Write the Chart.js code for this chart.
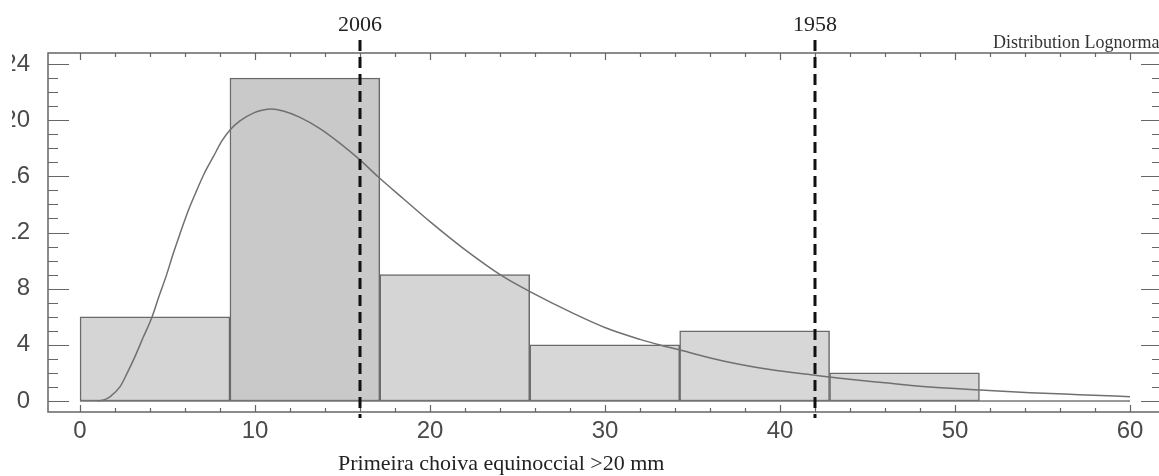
<!DOCTYPE html>
<html>
<head>
<meta charset="utf-8">
<script src="https://cdn.jsdelivr.net/npm/chart.js@4.4.1/dist/chart.umd.min.js"></script>
<style>
  html, body { margin: 0; padding: 0; background: #fff; overflow: hidden; width: 1159px; height: 476px; }
  #wrap { position: absolute; left: 12px; top: 0; }
</style>
</head>
<body>
<div id="wrap"><canvas id="histChart" width="1160" height="476"></canvas></div>
<script>
// histogram: bin edges (mm) and counts
var binEdges = [0, 8.57, 17.13, 25.7, 34.27, 42.83, 51.4];
var binCounts = [6, 23, 9, 4, 5, 2];

// lognormal curve
var curveX = [1.0, 1.4, 1.71, 2.29, 2.7, 3.14, 3.6, 4.1, 4.5, 4.95, 5.3, 5.71, 6.2, 6.67, 7.1, 7.62, 8.1, 8.57,
              9.14, 9.9, 10.4, 10.95, 11.62, 12.57, 13.71, 14.86, 16.0, 17.05, 18.48, 20.0, 21.9, 24.19, 25.71,
              28.19, 30.1, 32.0, 33.14, 34.29, 36.76, 39.62, 41.9, 43.43, 45.7, 48.57, 51.43, 54.29, 57.1, 60.0];
var curveY = [0.0, 0.1, 0.3, 1.02, 2.0, 3.16, 4.5, 5.93, 7.4, 9.0, 10.4, 11.9, 13.6, 15.0, 16.2, 17.4, 18.5, 19.3,
              19.95, 20.5, 20.7, 20.8, 20.65, 20.2, 19.4, 18.35, 17.17, 15.95, 14.4, 12.77, 10.87, 8.85, 7.79,
              6.24, 5.18, 4.39, 3.99, 3.63, 2.85, 2.2, 1.85, 1.62, 1.33, 0.99, 0.78, 0.59, 0.45, 0.31];

// years marked with dashed lines
var markerYears = ['2006', '1958'];
var markerValues = [16, 42];

var xTicks = [0, 10, 20, 30, 40, 50, 60];
var yTicks = [0, 4, 8, 12, 16, 20, 24];

var barData = binCounts.map(function (c, i) {
    return { x: (binEdges[i] + binEdges[i + 1]) / 2, y: c };
});
var curveData = curveX.map(function (x, i) {
    return { x: x, y: curveY[i] };
});
var baseData = [{ x: xTicks[0], y: 0 }, { x: xTicks[xTicks.length - 1], y: 0 }];

var framePlugin = {
    id: 'frame',
    afterDatasetsDraw: function (chart) {
        var ctx = chart.ctx, a = chart.chartArea;
        var xs = chart.scales.x, ys = chart.scales.y;
        ctx.save();

        // frame
        ctx.strokeStyle = '#666';
        ctx.lineWidth = 1.5;
        ctx.strokeRect(a.left, a.top, a.right - a.left, a.bottom - a.top);

        // inward ticks, left and right
        ctx.beginPath();
        for (var v = yTicks[0]; v <= yTicks[yTicks.length - 1]; v++) {
            var py = Math.round(ys.getPixelForValue(v)) + 0.5;
            var len = v % 4 === 0 ? 21 : 10;
            ctx.moveTo(a.left, py); ctx.lineTo(a.left + len, py);
            ctx.moveTo(a.right, py); ctx.lineTo(a.right - len, py);
        }
        // inward ticks, top and bottom
        for (var u = xTicks[0]; u <= xTicks[xTicks.length - 1]; u += 2) {
            var px = Math.round(xs.getPixelForValue(u)) + 0.5;
            var l2 = u % 10 === 0 ? 7 : 4;
            ctx.moveTo(px, a.bottom); ctx.lineTo(px, a.bottom - l2);
            ctx.moveTo(px, a.top); ctx.lineTo(px, a.top + l2);
        }
        ctx.lineWidth = 1.2;
        ctx.stroke();

        // dashed year markers
        ctx.strokeStyle = '#111';
        ctx.lineWidth = 3;
        ctx.setLineDash([11, 6]);
        ctx.fillStyle = '#222';
        ctx.font = '22px "Liberation Serif", "Times New Roman", serif';
        ctx.textAlign = 'center';
        ctx.textBaseline = 'alphabetic';
        markerValues.forEach(function (val, i) {
            var mx = xs.getPixelForValue(val);
            ctx.beginPath();
            ctx.moveTo(mx, a.top - 13);
            ctx.lineTo(mx, a.bottom + 6);
            ctx.stroke();
            ctx.fillText(markerYears[i], mx, 31);
        });
        ctx.setLineDash([]);

        // curve name, top right (runs off the edge like the original)
        ctx.fillStyle = '#333';
        ctx.font = '18px "Liberation Serif", "Times New Roman", serif';
        ctx.textAlign = 'left';
        ctx.fillText('Distribution Lognormal', a.right - 169, 48);

        // axis title
        ctx.fillStyle = '#222';
        ctx.font = '22px "Liberation Serif", "Times New Roman", serif';
        ctx.fillText('Primeira choiva equinoccial >20 mm', a.left + 290, 470);

        ctx.restore();
    }
};

var ctx = document.getElementById('histChart').getContext('2d');
new Chart(ctx, {
    type: 'bar',
    data: {
        datasets: [{
            type: 'bar',
            data: barData,
            backgroundColor: ['#d5d5d5', '#c9c9c9', '#d5d5d5', '#d7d7d7', '#d7d7d7', '#d7d7d7'],
            borderColor: '#6a6a6a',
            borderWidth: 1.5,
            borderSkipped: false,
            barPercentage: 1,
            categoryPercentage: 1,
            order: 3
        }, {
            type: 'line',
            data: baseData,
            borderColor: '#777',
            borderWidth: 1.5,
            pointRadius: 0,
            fill: false,
            order: 2
        }, {
            type: 'line',
            data: curveData,
            borderColor: '#707070',
            borderWidth: 1.5,
            pointRadius: 0,
            fill: false,
            cubicInterpolationMode: 'monotone',
            order: 1
        }]
    },
    options: {
        responsive: false,
        animation: false,
        events: [],
        layout: { padding: { top: 53, right: 10, left: 0, bottom: 0 } },
        plugins: { legend: { display: false }, tooltip: { enabled: false } },
        scales: {
            x: {
                type: 'linear',
                offset: false,
                min: -1.829,
                max: 61.829,
                grid: { display: false, drawTicks: false },
                border: { display: false },
                afterBuildTicks: function (scale) {
                    scale.ticks = xTicks.map(function (v) { return { value: v }; });
                },
                afterFit: function (scale) { scale.height = 64; },
                ticks: {
                    padding: 5,
                    color: '#4a4a4a',
                    font: { family: '"Liberation Sans", Arial, sans-serif', size: 24 },
                    maxRotation: 0,
                    autoSkip: false
                }
            },
            y: {
                type: 'linear',
                min: -0.783,
                max: 24.783,
                grid: { display: false, drawTicks: false },
                border: { display: false },
                afterBuildTicks: function (scale) {
                    scale.ticks = yTicks.map(function (v) { return { value: v }; });
                },
                afterFit: function (scale) { scale.width = 36; },
                ticks: {
                    padding: 18,
                    color: '#4a4a4a',
                    font: { family: '"Liberation Sans", Arial, sans-serif', size: 24 }
                }
            }
        }
    },
    plugins: [framePlugin]
});
</script>
</body>
</html>
